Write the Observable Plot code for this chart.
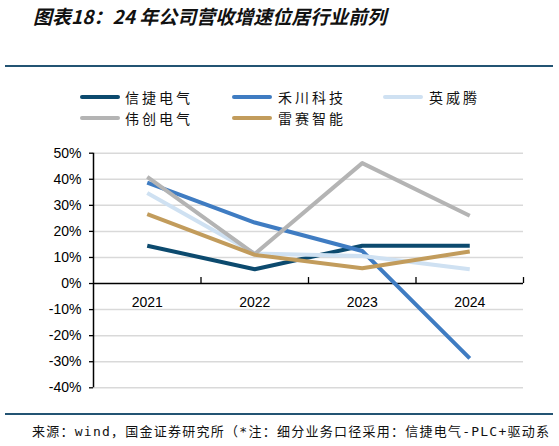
<!DOCTYPE html>
<html>
<head>
<meta charset="utf-8">
<script src="https://cdn.jsdelivr.net/npm/d3@7"></script>
<script src="https://cdn.jsdelivr.net/npm/@observablehq/plot@0.6"></script>
<style>
  html, body { margin: 0; padding: 0; background: #fff; }
  #page { position: relative; width: 559px; height: 446px; overflow: hidden; background: #fff; }
  .title { position: absolute; left: 33px; top: 5px; font: italic bold 19px/22px "Noto Sans CJK SC", sans-serif; color: #111; white-space: nowrap; }
  .rule { position: absolute; left: 5px; width: 548px; height: 2px; background: #235473; }
  .sw { position: absolute; width: 40px; height: 4px; border-radius: 2px; }
  .lt { position: absolute; font: 14px/14px "Noto Sans CJK SC", sans-serif; letter-spacing: 3px; color: #111; white-space: nowrap; }
  .foot { position: absolute; left: 32px; top: 425px; font: 13px/14px "DejaVu Sans Mono", "Noto Sans CJK SC", monospace; letter-spacing: 1.25px; color: #111; white-space: nowrap; }
  #chart { position: absolute; left: 0; top: 140px; }
</style>
</head>
<body>
<div id="page">
  <div class="title">图表18：24 年公司营收增速位居行业前列</div>
  <div class="rule" style="top:65px"></div>
  <div id="legend"></div>
  <div id="chart"></div>
  <div class="rule" style="top:413px"></div>
  <div class="foot">来源：wind，国金证券研究所（*注：细分业务口径采用：信捷电气-PLC+驱动系</div>
</div>
<script>
const years = [2021, 2022, 2023, 2024];
const seriesNames = ["信捷电气", "禾川科技", "英威腾", "伟创电气", "雷赛智能"];
const seriesColors = ["#0c4a6e", "#3f7cc2", "#cfe1f2", "#b4b4b4", "#c29c5c"];
const xinjie    = [14.5, 5.5, 14.5, 14.5];
const hechuan   = [38.7, 23.4, 12.5, -28.7];
const invt      = [34.7, 11.5, 10.6, 5.5];
const weichuang = [40.9, 11.3, 46.2, 26.0];
const leisai    = [26.6, 11.0, 5.9, 12.3];
const yTicks = [-40, -30, -20, -10, 0, 10, 20, 30, 40, 50];

const seriesValues = [xinjie, hechuan, invt, weichuang, leisai];
const rows = [];
seriesNames.forEach((name, i) => {
  years.forEach((yr, j) => rows.push({series: name, year: yr, value: seriesValues[i][j]}));
});

// Legend
const legendPos = [
  {sx: 80, tx: 125, y: 97}, {sx: 232, tx: 278, y: 97}, {sx: 383, tx: 429, y: 97},
  {sx: 80, tx: 125, y: 118}, {sx: 232, tx: 278, y: 118}
];
const legend = document.getElementById("legend");
seriesNames.forEach((name, i) => {
  const p = legendPos[i];
  const sw = document.createElement("div");
  sw.className = "sw";
  sw.style.left = p.sx + "px";
  sw.style.top = (p.y - 2) + "px";
  sw.style.background = seriesColors[i];
  legend.appendChild(sw);
  const t = document.createElement("div");
  t.className = "lt";
  t.style.left = p.tx + "px";
  t.style.top = (p.y - 7) + "px";
  t.textContent = name;
  legend.appendChild(t);
});

const x0 = years[0] - 0.5, x1 = years[years.length - 1] + 0.5;
const boundaries = years.map(y => y + 0.5);

const chart = Plot.plot({
  width: 559,
  height: 270,
  marginLeft: 93,
  marginRight: 36,
  marginTop: 12.7,
  marginBottom: 22.7,
  style: {fontFamily: "'Liberation Sans', Arial, sans-serif", fontSize: "14px", color: "#000", background: "transparent"},
  x: {type: "linear", domain: [x0, x1], axis: null},
  y: {domain: [-40, 50], axis: null},
  color: {domain: seriesNames, range: seriesColors},
  marks: [
    Plot.ruleY(yTicks.filter(d => d !== 0), {x1: x0, x2: x1, stroke: "#d9d9d9", strokeWidth: 1.5}),
    Plot.axisY({ticks: yTicks, label: null, tickSize: 4, tickPadding: 8, tickFormat: d => d + "%", fontSize: 14, stroke: "#000", fill: "#000", strokeWidth: 1.3}),
    Plot.ruleX([x0], {y1: -40, y2: 50, stroke: "#000", strokeWidth: 1.5}),
    Plot.ruleY([0], {x1: x0, x2: x1, stroke: "#000", strokeWidth: 1.5}),
    Plot.ruleX(boundaries, {y1: 0, y2: 2.3, stroke: "#000", strokeWidth: 1.3}),
    Plot.line(rows, {x: "year", y: "value", z: "series", stroke: "series", strokeWidth: 4, strokeLinejoin: "round", strokeLinecap: "butt"}),
    Plot.text(years, {x: d => d, y: 0, dy: 18.5, text: d => String(d), fontSize: 14, fill: "#000"})
  ]
});
document.getElementById("chart").appendChild(chart);
</script>
</body>
</html>
